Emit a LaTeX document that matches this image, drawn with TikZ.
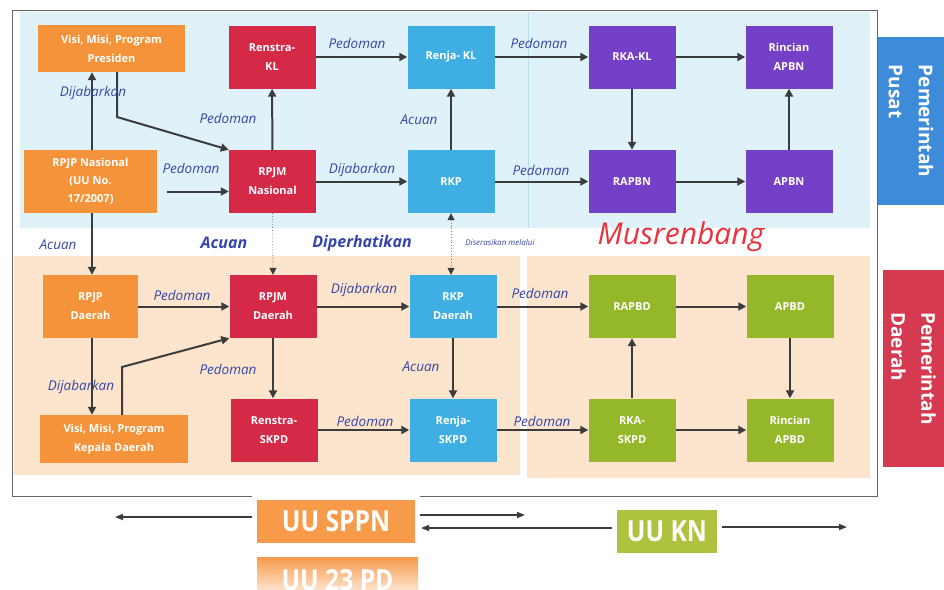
\documentclass[tikz,border=0pt]{standalone}
\usepackage{fontspec}
\usepackage{graphicx}
\setmainfont{Open Sans}
\usetikzlibrary{arrows.meta,calc}
\definecolor{cOr}{HTML}{F5933A}
\definecolor{cRed}{HTML}{D42A48}
\definecolor{cBlue}{HTML}{3FAEE3}
\definecolor{cPur}{HTML}{7540C8}
\definecolor{cGrn}{HTML}{94B82A}
\definecolor{cBgB}{HTML}{DFF2F9}
\definecolor{cBgBl}{HTML}{B8DDEB}
\definecolor{cBgP}{HTML}{FCE4CD}
\definecolor{cLbl}{HTML}{3546A8}
\definecolor{cArr}{HTML}{3C3C3C}
\definecolor{cFrame}{HTML}{666666}
\definecolor{cPusat}{HTML}{3D8BD9}
\definecolor{cDaerah}{HTML}{D63A50}
\definecolor{cSppn}{HTML}{F79A4A}
\definecolor{cKn}{HTML}{AFC23F}
\definecolor{cMus}{HTML}{E8343F}
\begin{document}
\begin{tikzpicture}[x=1pt,y=-1pt,
  box/.style={draw=none, text=white, font=\bfseries\fontsize{11}{19}\selectfont,
    align=center, minimum width=87pt, minimum height=63pt, inner sep=1pt},
  lbl/.style={font=\itshape\fontsize{13.5}{15}\selectfont, text=cLbl, inner sep=0pt},
  biglbl/.style={font=\bfseries\itshape\fontsize{16}{17}\selectfont, text=cLbl, inner sep=0pt},
  arr/.style={-{Triangle[length=8pt,width=8pt]}, line width=2pt, draw=cArr},
  dotarr/.style={dotted, line width=0.8pt, draw=gray},
  arrb/.style={-{Triangle[length=8pt,width=6pt]}, line width=1.6pt, draw=cArr},
  side/.style={rotate=-90, text=white, align=left, inner sep=0pt,
    font=\bfseries\fontsize{19}{30}\selectfont},
  uu/.style={text=white, inner sep=0pt, font=\bfseries\fontsize{29}{30}\selectfont}
]
\useasboundingbox (0,0) rectangle (944,589);
\fill[white] (0,0) rectangle (944,589);
% frame and backgrounds
\draw[cFrame, line width=0.9pt] (12,10) rectangle (877,496);
\fill[cBgB] (20,12) rectangle (870,228);
\draw[cBgBl, line width=0.6pt] (528,12) -- (528,228);
\fill[cBgP] (14,256) rectangle (520,475);
\fill[cBgP] (527,256) rectangle (870,478);
% side labels
\node[side, fill=cPusat, minimum width=168pt, minimum height=66pt] (pusat) at (911,121) {Pemerintah\\Pusat};
\node[side, fill=cDaerah, minimum width=197pt, minimum height=61pt] (daerah) at (913.5,368.5) {Pemerintah\\Daerah};

% top nodes
\node[box, fill=cOr, minimum width=147pt, minimum height=47pt] (vmp) at (111.5,48.5) {Visi, Misi, Program\\Presiden};
\node[box, fill=cRed] (renstrakl) at (272,57) {Renstra-\\KL};
\node[box, fill=cBlue] (renjakl) at (451,57) {Renja- KL};
\node[box, fill=cPur] (rkakl) at (632,57) {RKA-KL};
\node[box, fill=cPur] (rincianapbn) at (789,57) {Rincian\\APBN};
\node[box, fill=cOr, minimum width=133pt, font=\bfseries\fontsize{11}{18}\selectfont] (rpjpn) at (90.5,181.5) {RPJP Nasional\\(UU No.\\17/2007)};
\node[box, fill=cRed] (rpjmn) at (272.5,181.5) {RPJM\\Nasional};
\node[box, fill=cBlue] (rkp) at (451,181.5) {RKP};
\node[box, fill=cPur] (rapbn) at (632,181.5) {RAPBN};
\node[box, fill=cPur] (apbn) at (789,181.5) {APBN};

% bottom nodes
\node[box, fill=cOr, minimum width=95pt] (rpjpd) at (90.5,306.5) {RPJP\\Daerah};
\node[box, fill=cRed] (rpjmd) at (273,306.5) {RPJM\\Daerah};
\node[box, fill=cBlue] (rkpd) at (453,306.5) {RKP\\Daerah};
\node[box, fill=cGrn] (rapbd) at (632,306.5) {RAPBD};
\node[box, fill=cGrn] (apbd) at (790,306.5) {APBD};
\node[box, fill=cOr, minimum width=148pt, minimum height=48pt] (vmkd) at (114,439) {Visi, Misi, Program\\Kepala Daerah};
\node[box, fill=cRed] (renstraskpd) at (274,430) {Renstra-\\SKPD};
\node[box, fill=cBlue] (renjaskpd) at (453,430) {Renja-\\SKPD};
\node[box, fill=cGrn] (rkaskpd) at (632,430) {RKA-\\SKPD};
\node[box, fill=cGrn] (rincianapbd) at (790,430) {Rincian\\APBD};

% helper coordinates
\coordinate (xa) at (92,0);
\coordinate (b1) at (117,117);
\coordinate (b2) at (122,367);

% top arrows
\draw[arr] (rpjpn.north -| xa) -- (vmp.south -| xa);
\draw[arr] (vmp.south -| b1) -- (b1) -- (rpjmn.north west);
\draw[arr] (rpjmn) -- (renstrakl);
\draw[arr, shorten <=10pt] ([yshift=-10pt]rpjpn.east) -- ([yshift=-10pt]rpjpn.east -| rpjmn.west);
\draw[arr] (renstrakl) -- (renjakl);
\draw[arr] (renjakl) -- (rkakl);
\draw[arr] (rkakl) -- (rincianapbn);
\draw[arr] (rkakl) -- (rapbn);
\draw[arr] (rapbn) -- (apbn);
\draw[arr] (apbn) -- (rincianapbn);
\draw[arr] (rpjmn) -- (rkp);
\draw[arr] (rkp) -- (renjakl);
\draw[arr] (rkp) -- (rapbn);

% between levels
\draw[arr] (rpjpn.south -| xa) -- (rpjpd.north -| xa);
\draw[dotarr, -{Triangle[length=7pt,width=7pt,color=cArr]}] (rpjmn.south) -- (rpjmd.north);
\draw[dotarr, {Triangle[length=7pt,width=7pt,color=cArr]}-{Triangle[length=7pt,width=7pt,color=cArr]}] (rkp.south) -- (rkp.south |- rkpd.north);

% bottom arrows
\draw[arr] (rpjpd) -- (rpjmd);
\draw[arr] (rpjpd.south -| xa) -- (vmkd.north -| xa);
\draw[arr] (vmkd.north -| b2) -- (b2) -- (rpjmd.south west);
\draw[arr] (rpjmd) -- (rpjmd |- renstraskpd.north);
\draw[arr] (rpjmd) -- (rkpd);
\draw[arr] (rkpd) -- (renjaskpd);
\draw[arr] (renstraskpd) -- (renjaskpd);
\draw[arr] (rkpd) -- (rapbd);
\draw[arr] (renjaskpd) -- (rkaskpd);
\draw[arr] (rapbd) -- (apbd);
\draw[arr] (apbd) -- (rincianapbd);
\draw[arr] (rkaskpd) -- (rapbd);
\draw[arr] (rkaskpd) -- (rincianapbd);

% labels
\node[lbl] (l1) at (93,93) {Dijabarkan};
\node[lbl] (l2) at (228,118) {Pedoman};
\node[lbl] (l3) at (191,168) {Pedoman};
\node[lbl] (l4) at (357,43) {Pedoman};
\node[lbl] (l5) at (539,43) {Pedoman};
\node[lbl] (l6) at (362,170) {Dijabarkan};
\node[lbl] (l7) at (419,120) {Acuan};
\node[lbl] (l8) at (541,170) {Pedoman};
\node[lbl] (l9) at (58,245) {Acuan};
\node[biglbl] (l10) at (224,243) {Acuan};
\node[biglbl] (l11) at (362,243) {Diperhatikan};
\node[lbl, font=\itshape\fontsize{8}{9}\selectfont] (l12) at (500,242) {Diserasikan melalui};
\node[font=\itshape\fontsize{30}{32}\selectfont, text=cMus, inner sep=0pt] (l13) at (681,237) {Musrenbang};
\node[lbl] (l14) at (182,295) {Pedoman};
\node[lbl] (l15) at (81,387) {Dijabarkan};
\node[lbl] (l16) at (228,369) {Pedoman};
\node[lbl] (l17) at (364,290) {Dijabarkan};
\node[lbl] (l18) at (421,367) {Acuan};
\node[lbl] (l19) at (365,421) {Pedoman};
\node[lbl] (l20) at (540,293) {Pedoman};
\node[lbl] (l21) at (542,421) {Pedoman};

% bottom legend
\fill[white] (252,490) rectangle (420,552);
\node[uu, fill=cSppn, minimum width=158pt, minimum height=43pt] (sppn) at (336,521.5) {\scalebox{0.85}[1]{UU SPPN}};
\node[uu, top color=cSppn, bottom color=white, minimum width=161pt, minimum height=46pt] (pd) at (337.5,580) {\scalebox{0.85}[1]{UU 23 PD}};
\node[uu, fill=cKn, minimum width=100pt, minimum height=43pt] (kn) at (667,531.5) {\scalebox{0.85}[1]{UU KN}};
\coordinate (e1) at (115,517);
\coordinate (e2) at (525,515);
\coordinate (e3) at (421,528);
\coordinate (e4) at (847,527);
\draw[arrb] ([xshift=-5pt]sppn.west |- e1) -- (e1);
\draw[arrb] ([xshift=5pt]sppn.east |- e2) -- (e2);
\draw[arrb] ([xshift=-5pt]kn.west |- e3) -- (e3);
\draw[arrb] ([xshift=5pt]kn.east |- e4) -- (e4);
\end{tikzpicture}
\end{document}
